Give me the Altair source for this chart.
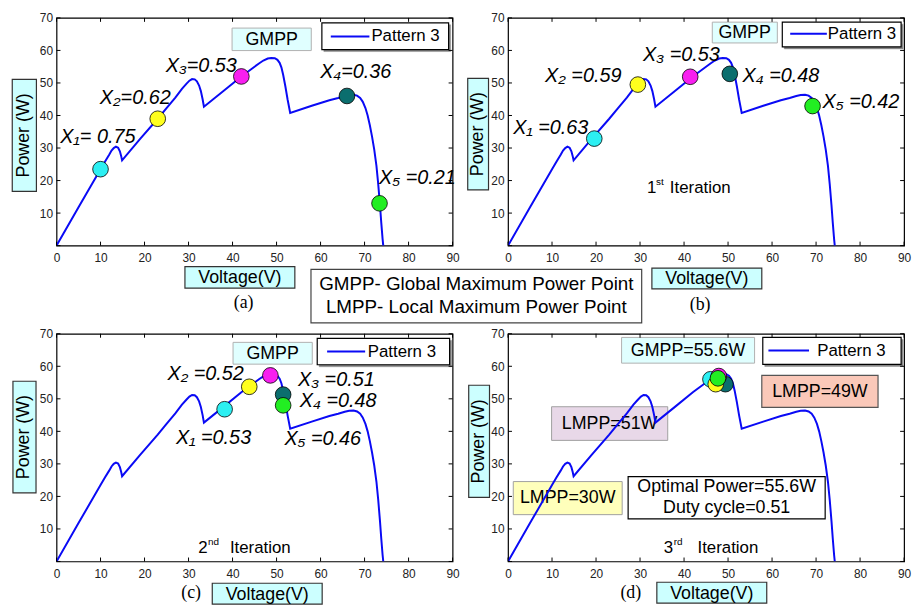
import altair as alt
import pandas as pd

# ---------------- data ----------------
# PV curve, Pattern 3 (Voltage V, Power W)
curve_v = [0, 5, 10, 11, 12, 12.5, 13.0, 13.5, 14.0, 14.4, 14.7, 14.9,
           19, 23, 25, 27, 28.5, 29.5, 30.2, 30.8, 31.4, 31.9, 32.4, 32.8, 33.2, 33.5,
           38, 42, 45, 46, 47, 48, 48.8, 49.6, 50.2, 50.7, 51.1, 51.5, 52.0, 52.5, 53.1,
           58, 62, 64, 65.5, 66.5, 67.5, 68.3, 69.0, 69.6, 70.2, 70.7, 71.2, 71.7, 72.2,
           72.7, 73.1, 73.5, 73.8, 74.1, 74.25]
curve_p = [0, 11.8, 23.5, 25.8, 28, 29.2, 30.0, 30.4, 30.1, 29.0, 27.5, 26.2,
           32.8, 39, 42.3, 45.5, 48.2, 49.7, 50.7, 51.2, 51.1, 50.5, 49.2, 47.5, 45, 42.7,
           47.6, 52, 55, 56, 56.9, 57.5, 57.7, 57.6, 57.1, 56.2, 54.8, 52.5, 49, 45, 40.8,
           43, 44.7, 45.4, 46.0, 46.3, 46.4, 46.1, 45.4, 44.2, 42.3, 40, 37, 33.5, 29.5,
           24.5, 19, 12.5, 7, 2, 0]
series = ["Pattern 3"]

x_names = ["X1", "X2", "X3", "X4", "X5"]
x_colors = ["#2CEFF2", "#FFFF1E", "#F81EF0", "#0B6E6E", "#22EE22"]

# panel (a)
a_pt_v = [10, 23, 42, 66, 73.4]
a_pt_p = [23.5, 39, 52, 46, 13.0]
a_lab = ["X₁= 0.75", "X₂=0.62", "X₃=0.53", "X₄=0.36", "X₅ =0.21"]
a_lab_v = [9.4, 17.9, 32.9, 68, 82]
a_lab_p = [33.4, 45.3, 55.2, 53.5, 20.7]

# panel (b)
b_pt_v = [19.6, 29.5, 41.4, 50.4, 69.2]
b_pt_p = [32.9, 49.5, 51.9, 52.8, 42.9]
b_lab = ["X₁ =0.63", "X₂ =0.59", "X₃ =0.53", "X₄ =0.48", "X₅ =0.42"]
b_lab_v = [9.7, 17.1, 39.4, 62, 80.2]
b_lab_p = [36, 52.1, 58.5, 52, 44]

# panel (c)
c_pt_v = [38.2, 43.8, 48.6, 51.5, 51.5]
c_pt_p = [46.8, 53.7, 57.2, 51.3, 48.0]
c_lab = ["X₁ =0.53", "X₂ =0.52", "X₃ =0.51", "X₄ =0.48", "X₅ =0.46"]
c_lab_v = [35.7, 33.9, 63.6, 64, 60.5]
c_lab_p = [37.9, 57.7, 55.8, 49.3, 37.5]

# panel (d) -- drawing order: X4, X1, X3, X2, X5
d_names = ["X4", "X1", "X3", "X2", "X5"]
d_pt_v = [49.4, 46.0, 47.9, 47.2, 47.7]
d_pt_p = [54.5, 56.0, 57.0, 54.5, 56.3]

iter_main = ["1", "2", "3"]
iter_sup = ["st", "nd", "rd"]
iter_v = [31.6, 32.2, 35.4]
iter_p = [16.1, 2.7, 2.7]

x_ticks = list(range(0, 91, 10))
y_ticks = list(range(0, 71, 10))

# ---------------- styling ----------------
SANS = "Liberation Sans"
SERIF = "Liberation Serif"
W, H = 400, 230
one = pd.DataFrame({"k": [0]})

XS = alt.Scale(domain=[0, 90], nice=False, zero=False)
YS = alt.Scale(domain=[0, 70], nice=False, zero=False)
AX_X = alt.Axis(values=x_ticks, title=None, ticks=False, grid=False, domain=False,
                labelFontSize=12, labelFont=SANS, labelColor="#222", labelPadding=7,
                labelFlush=False)
AX_Y = alt.Axis(values=y_ticks[1:], title=None, ticks=False, grid=False, domain=False,
                labelFontSize=12, labelFont=SANS, labelColor="#222", labelPadding=4)


def xe(f="V:Q"):
    return alt.X(f, scale=XS, axis=AX_X)


def ye(f="P:Q"):
    return alt.Y(f, scale=YS, axis=AX_Y)


def box(x1, y1, x2, y2, fill, stroke, sw=1.0):
    return alt.Chart(one).mark_rect(fill=fill, stroke=stroke, strokeWidth=sw).encode(
        x=alt.value(x1), x2=alt.value(x2), y=alt.value(y1), y2=alt.value(y2))


def txt(t, x, y, size=17, font=SANS, angle=None, align="center", lh=None):
    kw = dict(text=t, fontSize=size, font=font, align=align, baseline="middle", color="black")
    if angle is not None:
        kw["angle"] = angle
    if lh:
        kw["lineHeight"] = lh
    return alt.Chart(one).mark_text(**kw).encode(x=alt.value(x), y=alt.value(y))


curve_df = pd.DataFrame({"V": curve_v, "P": curve_p, "i": range(len(curve_v))})


def curve_layer():
    return alt.Chart(curve_df).mark_line(color="#0A0AF5", strokeWidth=2, clip=True).encode(
        x=xe(), y=ye(), order="i:Q")


def tick_layers():
    xt = pd.DataFrame({"V": x_ticks})
    yt = pd.DataFrame({"P": y_ticks})
    return [
        alt.Chart(xt).mark_rule(color="black", strokeWidth=1).encode(
            x=xe(), y=alt.value(H), y2=alt.value(H - 4)),
        alt.Chart(xt).mark_rule(color="black", strokeWidth=1).encode(
            x=xe(), y=alt.value(0), y2=alt.value(4)),
        alt.Chart(yt).mark_rule(color="black", strokeWidth=1).encode(
            y=ye(), x=alt.value(0), x2=alt.value(4)),
        alt.Chart(yt).mark_rule(color="black", strokeWidth=1).encode(
            y=ye(), x=alt.value(W), x2=alt.value(W - 4)),
    ]


def points_layer(names, vs, ps):
    df = pd.DataFrame({"name": names, "V": vs, "P": ps, "o": range(len(vs))})
    return alt.Chart(df).mark_point(filled=True, size=250, stroke="black", strokeWidth=0.8,
                                    opacity=1).encode(
        x=xe(), y=ye(), order="o:Q",
        fill=alt.Fill("name:N", scale=alt.Scale(domain=x_names, range=x_colors), legend=None))


def labels_layer(labs, vs, ps):
    df = pd.DataFrame({"t": labs, "V": vs, "P": ps})
    return alt.Chart(df).mark_text(fontSize=20, font=SANS, fontStyle="italic",
                                   color="black").encode(x=xe(), y=ye(), text="t:N")


def iter_layers(k):
    df = pd.DataFrame({"V": [iter_v[k]], "P": [iter_p[k]]})
    base = alt.Chart(df)
    sup_dx = 9 if k == 0 else 10
    it_dx = [23, 32, 34][k]
    return [
        base.mark_text(text=iter_main[k], fontSize=17, font=SANS, align="left",
                       baseline="alphabetic").encode(x=xe(), y=ye()),
        base.mark_text(text=iter_sup[k], fontSize=10, font=SANS, align="left",
                       baseline="alphabetic", dx=sup_dx, dy=-8).encode(x=xe(), y=ye()),
        base.mark_text(text="Iteration", fontSize=17, font=SANS, align="left",
                       baseline="alphabetic", dx=it_dx).encode(x=xe(), y=ye()),
    ]


def legend_layers(bx1, by1, bx2, by2, lx1, lx2, ly, tx):
    ldf = pd.DataFrame({"s": series})
    return [
        box(bx1 + 2, by1 + 2, bx2 + 2, by2 + 2, "#888", "#888", 0.5),
        box(bx1, by1, bx2, by2, "white", "black", 1.2),
        alt.Chart(ldf).mark_rule(color="#0A0AF5", strokeWidth=2).encode(
            x=alt.value(lx1), x2=alt.value(lx2), y=alt.value(ly)),
        alt.Chart(ldf).mark_text(fontSize=17, font=SANS, align="left", baseline="middle").encode(
            x=alt.value(tx), y=alt.value(ly), text="s:N"),
    ]


def axis_title_layers(pw, vt):
    px1, py1, px2, py2 = pw
    vx1, vy1, vx2, vy2 = vt
    return [
        box(px1, py1, px2, py2, "#CCFFFF", "#333", 1.2),
        txt("Power (W)", (px1 + px2) / 2, (py1 + py2) / 2, size=18, angle=270),
        box(vx1, vy1, vx2, vy2, "#CCFFFF", "#333", 1.2),
        txt("Voltage(V)", (vx1 + vx2) / 2, (vy1 + vy2) / 2 + 1, size=18),
    ]


def panel(layers):
    return alt.layer(*layers).properties(width=W, height=H)


# ---------- panel (a)
pa = panel(
    axis_title_layers((-44.7, 62, -20.3, 175.3), (129.7, 251.3, 240.7, 273))
    + [box(177.3, 10.3, 257.3, 33, "#E0FFFF", "#B0B0B0"), txt("GMPP", 217.3, 22, size=18)]
    + legend_layers(268, 5, 396, 32, 277, 316, 18.7, 318)
    + [curve_layer(), points_layer(x_names, a_pt_v, a_pt_p), labels_layer(a_lab, a_lab_v, a_lab_p)]
    + tick_layers()
    + [txt("(a)", 189, 288, size=18, font=SERIF),
       box(257, 254, 591, 308, "white", "#444", 1.2),
       txt("GMPP- Global Maximum Power Point", 424, 268.5, size=19),
       txt("LMPP- Local Maximum Power Point", 424, 292, size=19)]
)

# ---------- panel (b)
pb = panel(
    axis_title_layers((-40.7, 61, -19.7, 173.7), (145.3, 252.7, 256.3, 273.7))
    + [box(206.3, 4.3, 272, 25.3, "#E0FFFF", "#B0B0B0"), txt("GMPP", 239, 15, size=18)]
    + legend_layers(277, 4.3, 397, 29.3, 285, 322, 16, 323)
    + [curve_layer(), points_layer(x_names, b_pt_v, b_pt_p), labels_layer(b_lab, b_lab_v, b_lab_p)]
    + iter_layers(0)
    + tick_layers()
    + [txt("(b)", 194, 290, size=18, font=SERIF)]
)

# ---------- panel (c)
pc = panel(
    axis_title_layers((-44, 48, -20.7, 160.7), (157.3, 252, 268.3, 273))
    + [box(178.3, 8.7, 258.3, 30.7, "#E0FFFF", "#B0B0B0"), txt("GMPP", 218.3, 20, size=18)]
    + legend_layers(263.3, 4.7, 397, 31.3, 273.3, 311.7, 18, 314.3)
    + [curve_layer(), points_layer(x_names, c_pt_v, c_pt_p), labels_layer(c_lab, c_lab_v, c_lab_p)]
    + iter_layers(1)
    + tick_layers()
    + [txt("(c)", 136, 262, size=18, font=SERIF)]
)

# ---------- panel (d)
pd_ = panel(
    axis_title_layers((-39.7, 52, -18.7, 165.3), (150.3, 251, 261.3, 272))
    + [box(114.7, 3.7, 249, 29.7, "#E0FFFF", "#B0B0B0"), txt("GMPP=55.6W", 181.8, 17, size=18)]
    + legend_layers(257.3, 3.7, 397, 31, 263, 304, 17, 312.3)
    + [box(256.3, 42, 373.7, 74.3, "#FAC8B9", "#555", 1.2), txt("LMPP=49W", 315, 58.5, size=18),
       box(44, 73.7, 161.3, 107.7, "#E8D8E8", "#A0A0A0"), txt("LMPP=51W", 102.6, 90.7, size=18),
       box(5.3, 149.3, 115.3, 182.7, "#FFFFBB", "#A0A0A0"), txt("LMPP=30W", 60.3, 166, size=18),
       box(121.3, 144.3, 320.3, 187, "white", "black", 1.2),
       txt(["Optimal Power=55.6W", "Duty cycle=0.51"], 220.8, 154.5, size=18, lh=22)]
    + [curve_layer(), points_layer(d_names, d_pt_v, d_pt_p)]
    + iter_layers(2)
    + tick_layers()
    + [txt("(d)", 124, 262, size=18, font=SERIF)]
)

chart = alt.concat(pa, pb, pc, pd_, columns=2, spacing={"row": 89, "column": 56},
                   bounds="flush").properties(
    padding={"left": 3, "top": 0, "right": 0, "bottom": 0},
    background="white",
).configure_view(stroke="black", strokeWidth=1.2)

chart.save("out.html", embed_options={"renderer": "svg", "actions": False})
